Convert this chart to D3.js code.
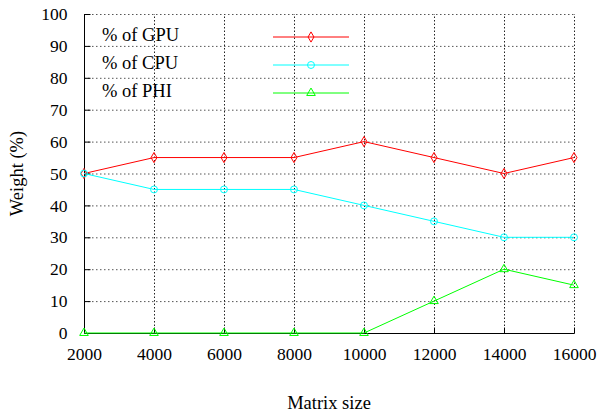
<!DOCTYPE html>
<html>
<head>
<meta charset="utf-8">
<script src="https://cdn.jsdelivr.net/npm/d3@7"></script>
<style>
body{margin:0;background:#fff}
</style>
</head>
<body>
<svg id="svg1" width="597" height="414"></svg>
<script>
var sizes=[2000,4000,6000,8000,10000,12000,14000,16000]
var gpu=[50,55,55,55,60,55,50,55]
var cpu=[50,45,45,45,40,35,30,30]
var phi=[0,0,0,0,0,10,20,15]
var yticks=[0,10,20,30,40,50,60,70,80,90,100]
var names=["% of GPU","% of CPU","% of PHI"]
var colors=["#ff0000","#00ffff","#00ff00"]
var shapes=[d3.symbolDiamond,d3.symbolCircle,d3.symbolTriangle]
var symSize=[30,38,32]
var FONT="Liberation Serif"

var svg=d3.select("#svg1").attr("font-family",FONT).attr("font-size",17.5)
var L=84,R=574,T=14,B=333

var x=d3.scaleLinear().domain([2000,16000]).range([L,R])
var y=d3.scaleLinear().domain([0,100]).range([B,T])

// grid
svg.append("g").selectAll("line").data(yticks.slice(1)).enter().append("line")
    .attr("x1",L).attr("x2",R)
    .attr("y1",function(d){return y(d)+0.5}).attr("y2",function(d){return y(d)+0.5})
    .attr("stroke","#555").attr("stroke-width",1).attr("stroke-dasharray","1.5,2.5")
svg.append("g").selectAll("line").data(sizes.slice(1)).enter().append("line")
    .attr("x1",function(d){return x(d)+0.5}).attr("x2",function(d){return x(d)+0.5})
    .attr("y1",B).attr("y2",T)
    .attr("stroke","#222").attr("stroke-width",1).attr("stroke-dasharray","1.5,2")

// axes
var xa=svg.append("g").attr("transform","translate(0,"+(B+0.5)+")")
    .call(d3.axisBottom(x).tickValues(sizes).tickSize(-6).tickPadding(14).tickFormat(d3.format("d")))
var ya=svg.append("g").attr("transform","translate("+(L+0.5)+",0)")
    .call(d3.axisLeft(y).tickValues(yticks).tickSize(-6).tickPadding(17))
xa.attr("font-family",FONT).attr("font-size",17.5)
ya.attr("font-family",FONT).attr("font-size",17.5)
xa.select(".domain").attr("stroke","#000").attr("d","M"+L+",0H"+(R+0.5))
ya.select(".domain").attr("stroke","#000").attr("d","M0,"+(B+0.5)+"V"+T)
svg.selectAll(".tick line").attr("stroke","#000")
xa.selectAll(".tick text").attr("dy","0.71em")
svg.selectAll(".tick text").attr("fill","#000")

var labels=svg.append("g").attr("font-size",18.5)
labels.append("text").attr("x",(L+R)/2).attr("y",409).attr("text-anchor","middle").text("Matrix size")
labels.append("text").attr("transform","translate(23,"+((T+B)/2)+") rotate(-90)")
    .attr("text-anchor","middle").text("Weight (%)")

// series
var series=[gpu,cpu,phi]
var line=d3.line().x(function(d,i){return x(sizes[i])}).y(function(d){return y(d)})
series.forEach(function(s,k){
    svg.append("path").datum(s).attr("d",line)
        .attr("fill","none").attr("stroke",colors[k]).attr("stroke-width",1)
    svg.append("g").selectAll("path").data(s).enter().append("path")
        .attr("transform",function(d,i){return "translate("+x(sizes[i])+","+y(d)+")"})
        .attr("d",d3.symbol().type(shapes[k]).size(symSize[k]))
        .attr("fill","none").attr("stroke",colors[k]).attr("stroke-width",1)
})

// legend
var ly=[37,65,93]
names.forEach(function(n,k){
    labels.append("text").attr("x",102).attr("y",ly[k]+4).text(n)
    svg.append("line").attr("x1",273).attr("x2",349).attr("y1",ly[k]).attr("y2",ly[k])
        .attr("stroke",colors[k]).attr("stroke-width",1)
    svg.append("path").attr("transform","translate(311,"+ly[k]+")")
        .attr("d",d3.symbol().type(shapes[k]).size(symSize[k]))
        .attr("fill","none").attr("stroke",colors[k]).attr("stroke-width",1)
})
</script>
</body>
</html>
